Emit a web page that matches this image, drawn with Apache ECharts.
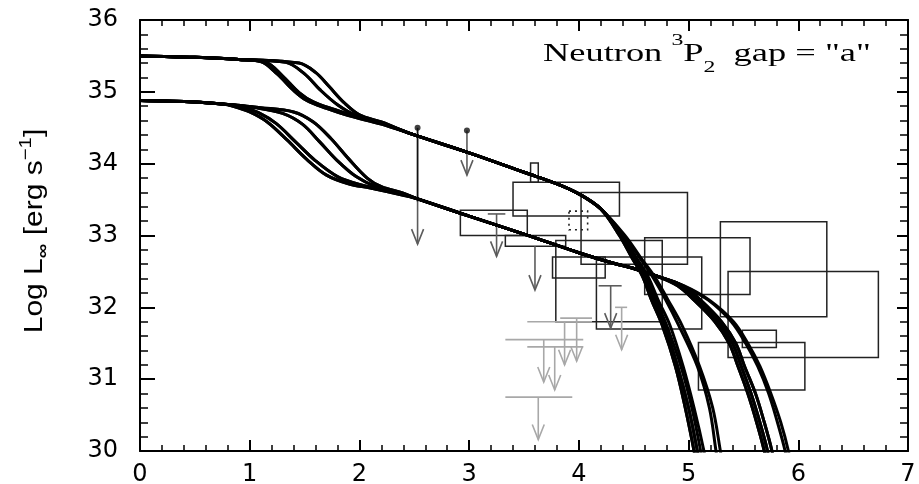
<!DOCTYPE html>
<html>
<head>
<meta charset="utf-8">
<script src="https://cdn.jsdelivr.net/npm/echarts@6/dist/echarts.min.js"></script>
<style>
  html, body { margin: 0; padding: 0; background: #fff; }
  #cooling { width: 919px; height: 484px; }
</style>
</head>
<body>
<div id="cooling"></div>
<script>
// cooling curves, upper family (L starts near 35.5)
const upperFlat = [[0, 35.50], [0.5, 35.48], [0.9, 35.45]]
const upperHeadA = [[1.1, 35.42], [1.25, 35.25], [1.4, 35.02], [1.52, 34.88], [1.7, 34.77], [1.9, 34.67], [2.2, 34.55]]
const upperHeadB = [[1.15, 35.41], [1.3, 35.22], [1.45, 34.99], [1.58, 34.86], [1.78, 34.75], [1.98, 34.65], [2.2, 34.56]]
const upperHeadC = [[1.33, 35.41], [1.5, 35.25], [1.64, 35.03], [1.8, 34.82], [1.97, 34.67], [2.2, 34.57]]
const upperHeadD = [[1.45, 35.40], [1.6, 35.27], [1.72, 35.08], [1.86, 34.85], [2.0, 34.68], [2.2, 34.58]]
const upperMid = [[2.5, 34.40], [3.0, 34.15], [3.5, 33.88], [3.8, 33.72], [4.0, 33.58], [4.2, 33.37]]
const upperTailA = [[4.37, 33.0], [4.48, 32.7], [4.58, 32.43], [4.66, 32.11], [4.76, 31.75], [4.88, 31.18], [4.97, 30.6], [5.05, 30.0], [5.07, 29.8]]
const upperTailB = [[4.38, 33.0], [4.49, 32.7], [4.59, 32.43], [4.68, 32.11], [4.78, 31.75], [4.90, 31.18], [5.00, 30.6], [5.08, 30.0], [5.10, 29.8]]
const upperTailC = [[4.39, 33.0], [4.50, 32.7], [4.61, 32.43], [4.70, 32.11], [4.80, 31.75], [4.93, 31.18], [5.03, 30.6], [5.11, 30.0], [5.13, 29.8]]
const upperTailD = [[4.40, 33.0], [4.52, 32.7], [4.63, 32.43], [4.72, 32.11], [4.83, 31.75], [4.95, 31.18], [5.05, 30.6], [5.14, 30.0], [5.16, 29.8]]
const upperTailE = [[4.41, 33.0], [4.55, 32.7], [4.67, 32.43], [4.79, 32.11], [4.91, 31.75], [5.08, 31.18], [5.19, 30.6], [5.25, 30.0], [5.27, 29.8]]
const upperTailF = [[4.42, 33.0], [4.56, 32.7], [4.69, 32.43], [4.81, 32.11], [4.94, 31.75], [5.10, 31.18], [5.22, 30.6], [5.29, 30.0], [5.31, 29.8]]

// lower family (L starts near 34.9)
const lowerFlat = [[0, 34.88], [0.5, 34.86], [0.75, 34.83]]
const lowerHeadA = [[0.85, 34.80], [1.0, 34.72], [1.16, 34.58], [1.34, 34.33], [1.52, 34.06], [1.7, 33.84], [1.9, 33.72], [2.1, 33.66], [2.4, 33.56]]
const lowerHeadB = [[0.92, 34.80], [1.08, 34.71], [1.24, 34.56], [1.42, 34.30], [1.6, 34.04], [1.8, 33.82], [2.0, 33.71], [2.4, 33.57]]
const lowerHeadC = [[1.05, 34.78], [1.3, 34.70], [1.48, 34.55], [1.64, 34.30], [1.8, 34.04], [1.97, 33.82], [2.15, 33.68], [2.4, 33.58]]
const lowerHeadD = [[1.1, 34.78], [1.4, 34.72], [1.58, 34.58], [1.74, 34.35], [1.9, 34.07], [2.07, 33.80], [2.2, 33.68], [2.4, 33.59]]
const lowerMid = [[2.53, 33.51], [3.0, 33.27], [3.5, 33.02], [4.0, 32.76], [4.3, 32.62], [4.5, 32.54], [4.7, 32.44]]
const lowerTailA = [[4.90, 32.3], [5.05, 32.1], [5.24, 31.8], [5.37, 31.5], [5.45, 31.18], [5.54, 30.8], [5.62, 30.4], [5.69, 30.0], [5.71, 29.8]]
const lowerTailB = [[4.93, 32.3], [5.08, 32.1], [5.27, 31.8], [5.40, 31.5], [5.48, 31.18], [5.57, 30.8], [5.65, 30.4], [5.72, 30.0], [5.74, 29.8]]
const lowerTailC = [[4.95, 32.3], [5.11, 32.1], [5.30, 31.8], [5.43, 31.5], [5.51, 31.18], [5.61, 30.8], [5.69, 30.4], [5.76, 30.0], [5.78, 29.8]]
const lowerTailD = [[4.95, 32.3], [5.18, 32.1], [5.39, 31.8], [5.52, 31.5], [5.63, 31.18], [5.73, 30.8], [5.81, 30.4], [5.88, 30.0], [5.90, 29.8]]
const lowerTailE = [[4.96, 32.3], [5.19, 32.1], [5.41, 31.8], [5.54, 31.5], [5.65, 31.18], [5.75, 30.8], [5.84, 30.4], [5.91, 30.0], [5.93, 29.8]]

// error boxes: [xLo, xHi, yLo, yHi]
const boxes = [
  [2.92, 3.53, 33.00, 33.35],
  [3.40, 4.37, 33.27, 33.74],
  [3.56, 3.63, 33.74, 34.01],
  [3.33, 3.88, 32.85, 33.00],
  [3.79, 4.76, 31.80, 32.93],
  [3.76, 4.24, 32.41, 32.70],
  [4.02, 4.99, 32.60, 33.60],
  [4.16, 5.12, 31.70, 32.70],
  [4.60, 5.56, 32.18, 32.97],
  [5.29, 6.26, 31.87, 33.19],
  [5.36, 6.73, 31.30, 32.50],
  [5.09, 6.06, 30.85, 31.51],
  [5.49, 5.80, 31.44, 31.68]
]
const dottedBox = [[3.91, 4.08, 33.08, 33.34]]

// upper limits: position, start, arrow tip, cap ends, shade (0 dark, 1 light)
const limX     = [2.53, 2.98, 3.25, 3.60, 4.29, 4.39, 3.87, 3.98, 3.68, 3.78, 3.63]
const limTop   = [33.47, 34.46, 33.30, 32.85, 32.30, 32.00, 31.80, 31.85, 31.55, 31.45, 30.75]
const limTip   = [32.88, 33.84, 32.71, 32.24, 31.71, 31.41, 31.20, 31.25, 30.96, 30.85, 30.16]
const capLo    = [2.53, 2.98, 3.17, 3.60, 4.18, 4.33, 3.53, 3.83, 3.33, 3.53, 3.33]
const capHi    = [2.53, 2.98, 3.33, 3.60, 4.39, 4.44, 4.12, 4.12, 4.04, 4.04, 3.94]
const limShade = [0, 0, 0, 0, 0, 1, 1, 1, 1, 1, 1]

// measured range above the limit and the end dots
const stemX = [2.53]
const stemTop = [34.50]
const stemBottom = [33.47]
const dotX = [2.53, 2.98]
const dotY = [34.50, 34.46]

const upperCurves = [
  [upperHeadA, upperTailA], [upperHeadA, upperTailB], [upperHeadB, upperTailC], [upperHeadB, upperTailE],
  [upperHeadC, upperTailD], [upperHeadC, upperTailA], [upperHeadD, upperTailF], [upperHeadD, upperTailB]
].map(([h, t]) => upperFlat.concat(h, upperMid, t))
const lowerCurves = [
  [lowerHeadA, lowerTailA], [lowerHeadA, lowerTailB], [lowerHeadB, lowerTailC], [lowerHeadB, lowerTailD],
  [lowerHeadC, lowerTailB], [lowerHeadC, lowerTailA], [lowerHeadD, lowerTailE], [lowerHeadD, lowerTailC]
].map(([h, t]) => lowerFlat.concat(h, lowerMid, t))

const chart = echarts.init(document.getElementById('cooling'))

const tickFont = 'DejaVu Sans'
const baseX = {
  type: 'value', min: 0, max: 7, interval: 1,
  axisLine: { show: true, onZero: false, lineStyle: { color: '#000', width: 2 } },
  axisTick: { show: true, inside: true, length: 11, lineStyle: { color: '#000', width: 2 } },
  minorTick: { show: true, splitNumber: 5, length: 6, lineStyle: { color: '#000', width: 1.5 } },
  splitLine: { show: false }
}
const baseY = {
  type: 'value', min: 30, max: 36, interval: 1,
  axisLine: { show: true, onZero: false, lineStyle: { color: '#000', width: 2 } },
  axisTick: { show: true, inside: true, length: 15, lineStyle: { color: '#000', width: 2 } },
  minorTick: { show: true, splitNumber: 5, length: 8, lineStyle: { color: '#000', width: 1.5 } },
  splitLine: { show: false }
}

const curveSeries = upperCurves.concat(lowerCurves).map(c => ({
  type: 'line',
  data: c,
  smooth: 0.35,
  symbol: 'none',
  clip: true,
  silent: true,
  lineStyle: { color: '#000', width: 3 },
  z: 4
}))

function limitItem(params, api) {
  const x = api.value(0), top = api.value(1), tip = api.value(2)
  const c0 = api.value(3), c1 = api.value(4)
  const color = api.value(5) ? '#a8a8a8' : '#5c5c5c'
  const pt = api.coord([x, top]), pk = api.coord([x, tip])
  const st = { stroke: color, lineWidth: 1.6, fill: null }
  const kids = [
    { type: 'line', shape: { x1: pt[0], y1: pt[1], x2: pk[0], y2: pk[1] }, style: st },
    { type: 'polyline', shape: { points: [[pk[0] - 6, pk[1] - 15], [pk[0], pk[1]], [pk[0] + 6, pk[1] - 15]] }, style: st }
  ]
  if (c1 > c0) {
    const a = api.coord([c0, top]), b = api.coord([c1, top])
    kids.push({ type: 'line', shape: { x1: a[0], y1: a[1], x2: b[0], y2: b[1] }, style: st })
  }
  return { type: 'group', children: kids }
}

function boxItem(dash) {
  return (params, api) => {
    const p0 = api.coord([api.value(0), api.value(3)])
    const p1 = api.coord([api.value(1), api.value(2)])
    return {
      type: 'rect',
      shape: { x: p0[0], y: p0[1], width: p1[0] - p0[0], height: p1[1] - p0[1] },
      style: { fill: null, stroke: '#222', lineWidth: dash ? 1.6 : 1.5, lineDash: dash ? [2, 4] : null }
    }
  }
}

const serif = 'Liberation Serif'
const sans = 'Liberation Sans'

chart.setOption({
  animation: false,
  backgroundColor: '#fff',
  graphic: [
    {
      type: 'text', x: 543, y: 32, scaleX: 1.4, silent: true,
      style: {
        text: '{t|Neutron }{s|3}{t|P}{b|2}{t|  gap = "a"}',
        verticalAlign: 'top',
        rich: {
          t: { fontFamily: serif, fontSize: 26, fill: '#000', lineHeight: 44 },
          s: { fontFamily: serif, fontSize: 17, fill: '#000', lineHeight: 19, verticalAlign: 'top' },
          b: { fontFamily: serif, fontSize: 17, fill: '#000', lineHeight: 28, verticalAlign: 'bottom' }
        }
      }
    },
    {
      type: 'text', x: 35, y: 231, rotation: Math.PI / 2, scaleX: 1.2, silent: true,
      style: {
        text: '{a|Log L}{sub|∞}{a| [erg s}{sup|−1}{a|]}',
        align: 'center', verticalAlign: 'middle',
        rich: {
          a: { fontFamily: sans, fontSize: 25, fill: '#000', lineHeight: 34 },
          sub: { fontFamily: sans, fontSize: 17, fontWeight: 'bold', fill: '#000', lineHeight: 20, verticalAlign: 'bottom' },
          sup: { fontFamily: sans, fontSize: 17, fill: '#000', lineHeight: 17, verticalAlign: 'top' }
        }
      }
    }
  ],
  grid: { left: 140, right: 11, top: 20, bottom: 33, containLabel: false, outerBoundsMode: 'none' },
  xAxis: [
    Object.assign({}, baseX, {
      position: 'bottom',
      axisLabel: { fontFamily: tickFont, fontSize: 24, color: '#000', margin: 12 }
    }),
    Object.assign({}, baseX, { position: 'top', axisLabel: { show: false } })
  ],
  yAxis: [
    Object.assign({}, baseY, {
      position: 'left',
      axisLabel: { fontFamily: tickFont, fontSize: 24, color: '#000', margin: 22 }
    }),
    Object.assign({}, baseY, {
      position: 'right',
      axisTick: { show: true, inside: true, length: 11, lineStyle: { color: '#000', width: 2 } },
      axisLabel: { show: false }
    })
  ],
  series: [
    {
      type: 'custom', renderItem: boxItem(false), data: boxes,
      encode: { x: [0, 1], y: [2, 3] }, clip: true, silent: true, z: 2
    },
    {
      type: 'custom', renderItem: boxItem(true), data: dottedBox,
      encode: { x: [0, 1], y: [2, 3] }, clip: true, silent: true, z: 2
    },
    {
      type: 'custom', renderItem: limitItem,
      data: limX.map((x, i) => [x, limTop[i], limTip[i], capLo[i], capHi[i], limShade[i]]),
      encode: { x: 0, y: [1, 2] }, clip: true, silent: true, z: 3
    },
    {
      type: 'custom',
      renderItem: (params, api) => {
        const a = api.coord([api.value(0), api.value(1)]), b = api.coord([api.value(0), api.value(2)])
        return { type: 'line', shape: { x1: a[0], y1: a[1], x2: b[0], y2: b[1] }, style: { stroke: '#111', lineWidth: 1.8 } }
      },
      data: stemX.map((x, i) => [x, stemTop[i], stemBottom[i]]),
      encode: { x: 0, y: [1, 2] }, silent: true, z: 3
    },
    {
      type: 'scatter', data: dotX.map((x, i) => [x, dotY[i]]),
      symbol: 'circle', symbolSize: 6, itemStyle: { color: '#111' }, silent: true, z: 5
    }
  ].concat(curveSeries)
})
</script>
</body>
</html>
